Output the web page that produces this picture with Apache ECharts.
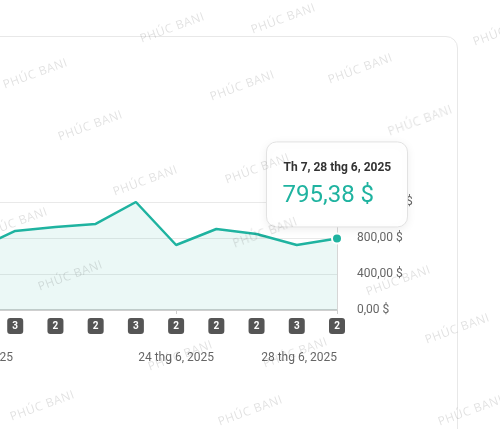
<!DOCTYPE html>
<html><head><meta charset="utf-8">
<script src="https://cdn.jsdelivr.net/npm/echarts@6/dist/echarts.min.js"></script>
<style>
html,body{margin:0;padding:0;width:500px;height:429px;overflow:hidden;background:#fff;font-family:Roboto,"Noto Sans",sans-serif;}
#card{position:absolute;left:-200px;top:36px;width:658px;height:500px;border:1px solid #e8e8e8;border-radius:12px;box-sizing:border-box;background:#fff;}
#chart{position:absolute;left:-100px;top:0;width:600px;height:429px;}
.wm{position:absolute;font-size:12px;color:rgba(0,0,0,0.12);transform:translate(-50%,-50%) rotate(-20deg);white-space:nowrap;pointer-events:none;letter-spacing:0.5px;z-index:10;font-family:"Open Sans",Roboto,sans-serif;}
</style></head>
<body>
<div id="card"></div>
<div id="chart"></div>
<script>
// ---- data ----
const dates = ['2025-06-19','2025-06-20','2025-06-21','2025-06-22','2025-06-23','2025-06-24','2025-06-25','2025-06-26','2025-06-27','2025-06-28'];
const revenue = [667, 878, 922, 956, 1200, 722, 900, 844, 722, 795.38];
const orderCounts = [2, 3, 2, 2, 3, 2, 2, 2, 3, 2];
const labeledDates = ['2025-06-19','2025-06-24','2025-06-28'];
const yMin = 0, yMax = 1200, yStep = 400;
const watermarkText = 'PHÚC BANI';

// ---- helpers ----
function fmtMoney(v){
  const parts = v.toFixed(2).split('.');
  parts[0] = parts[0].replace(/\B(?=(\d{3})+(?!\d))/g, '.');
  return parts[0] + ',' + parts[1] + ' $';
}
function fmtDate(s){
  const d = new Date(s + 'T00:00:00');
  return d.getDate() + ' thg ' + (d.getMonth()+1) + ', ' + d.getFullYear();
}
function fmtDay(s){
  const d = new Date(s + 'T00:00:00');
  const w = d.getDay();
  return (w === 0 ? 'CN' : 'Th ' + (w+1)) + ', ' + fmtDate(s);
}
const teal = '#1fb3a0';
const showLabel = (i) => labeledDates.indexOf(dates[i]) >= 0;
const last = dates.length - 1;

const chart = echarts.init(document.getElementById('chart'), null, {renderer:'canvas'});
chart.setOption({
  animation:false,
  backgroundColor:'transparent',
  textStyle:{fontFamily:'Roboto, sans-serif'},
  grid:{left:75, right:163, top:202, bottom:119},
  xAxis:[{
    type:'category', data:dates, boundaryGap:false, position:'bottom', offset:30,
    axisLine:{show:true, lineStyle:{color:'#cfcfcf', width:2}},
    axisTick:{show:true, length:4, interval:(i)=>showLabel(i), lineStyle:{color:'#cfcfcf'}},
    axisLabel:{interval:(i)=>showLabel(i), formatter:(v)=>fmtDate(v), color:'#666', fontSize:12, margin:12, alignMaxLabel:'right'},
    splitLine:{show:false}
  },{
    type:'category', data:dates, boundaryGap:false, position:'bottom', offset:0,
    axisLine:{show:false}, axisTick:{show:false}, splitLine:{show:false},
    axisLabel:{interval:0, margin:8, formatter:(v,i)=>'{b|' + orderCounts[i] + '}',
      rich:{b:{backgroundColor:'#555', color:'#fff', width:16, height:16, lineHeight:16, align:'center', borderRadius:3, fontSize:10, fontWeight:'bold'}}}
  }],
  yAxis:{
    type:'value', position:'right', min:yMin, max:yMax, interval:yStep,
    axisLine:{show:false}, axisTick:{show:false},
    axisLabel:{formatter:(v)=>fmtMoney(v), color:'#666', fontSize:12, margin:20},
    splitLine:{lineStyle:{color:'#e9e9e9'}}
  },
  series:[{
    type:'line', data:revenue, xAxisIndex:0, showSymbol:false, smooth:false,
    lineStyle:{color:teal, width:2.5}, itemStyle:{color:teal},
    areaStyle:{color:'rgba(31,179,160,0.13)'},
    markLine:{silent:true, symbol:['none','none'], label:{show:false},
      lineStyle:{color:'#d6d6d6', type:'solid', width:1},
      data:[{xAxis:dates[last]}]},
    markPoint:{symbol:'circle', symbolSize:10, label:{show:false},
      itemStyle:{color:teal, borderColor:'#fff', borderWidth:2},
      data:[{coord:[dates[last], revenue[last]]}]}
  }]
});

const p = chart.convertToPixel({xAxisIndex:0, yAxisIndex:0}, [last, revenue[last]]);
const tx = p[0] - 71, ty = p[1] - 97;
chart.setOption({
  graphic:[{
    type:'group', left:tx, top:ty, zlevel:5, z:100,
    children:[
      {type:'rect', zlevel:5, z:100, shape:{x:0,y:0,width:141,height:85,r:10},
       style:{fill:'#fff', stroke:'#e2e2e2', lineWidth:1, shadowBlur:10, shadowColor:'rgba(0,0,0,0.08)', shadowOffsetY:2}},
      {type:'text', zlevel:5, z:101, x:17, y:26, style:{text:fmtDay(dates[last]), fill:'#333', font:'bold 12px Roboto, sans-serif', textVerticalAlign:'middle'}},
      {type:'text', zlevel:5, z:101, x:16, y:54, style:{text:fmtMoney(revenue[last]), fill:teal, font:'24px Roboto, sans-serif', textVerticalAlign:'middle'}}
    ]
  }]
});

// watermark overlay
const wmPos = [[172,27],[283,18],[505,30],[35,73],[242,85],[360,68],[90,125],[420,120],[145,180],[257,168],[15,222],[265,232],[70,275],[398,280],[457,328],[180,355],[295,352],[42,405],[250,410],[470,410]];
wmPos.forEach(([x,y])=>{
  const d = document.createElement('div');
  d.className='wm'; d.textContent = watermarkText;
  d.style.left = x + 'px'; d.style.top = y + 'px';
  document.body.appendChild(d);
});
</script>
</body></html>
